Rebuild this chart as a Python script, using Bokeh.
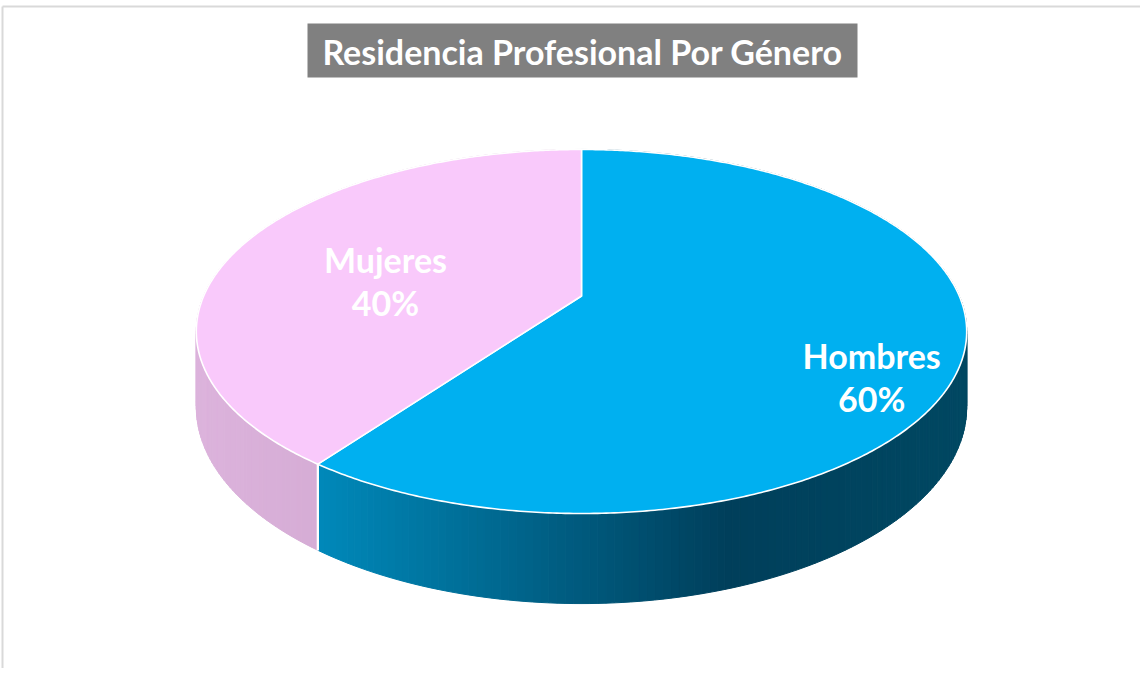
import math
from bokeh.plotting import figure
from bokeh.models import Range1d
from bokeh.core.properties import value
from bokeh.embed import file_html
from bokeh.resources import INLINE

# ---- data ----
title_text = "Residencia Profesional Por Género"
categories = ["Hombres", "Mujeres"]
values = [60, 40]

# ---- styles / layout ----
top_colors = ["#00B0F0", "#F9C9FB"]
side_stops = [
    [(0.0, "#0089BA"), (0.63, "#003F5B"), (1.0, "#004862")],
    [(0.0, "#DCB3DC"), (1.0, "#C89EC7")],
]
label_rho = [0.77, 0.564]
label_dy = [37, 14]
FONT = "Lato"

W, H = 1140, 668
CX, CY = 581.0, 295.5      # pie centre (screen px)
RX, RY = 377.8, 175.1      # radii of the tilted disc
K = 0.195                  # perspective strength
DEPTH = 72.5               # thickness of the pie


def proj(theta_deg, rho=1.0, drop=0.0):
    t = math.radians(theta_deg)
    u = rho * math.sin(t)
    v = rho * math.cos(t)
    s = 1.0 / (1.0 + K * v)
    return CX + RX * u * s, CY + (-RY * v + drop) * s


def hex2rgb(h):
    h = h.lstrip("#")
    return tuple(int(h[i:i + 2], 16) for i in (0, 2, 4))


def grad(stops, f):
    f = min(max(f, 0.0), 1.0)
    for (f0, c0), (f1, c1) in zip(stops[:-1], stops[1:]):
        if f <= f1:
            a = (f - f0) / (f1 - f0) if f1 > f0 else 0
            r0, r1 = hex2rgb(c0), hex2rgb(c1)
            return "#%02x%02x%02x" % tuple(int(round(r0[i] + (r1[i] - r0[i]) * a)) for i in range(3))
    return stops[-1][1]


p = figure(width=W, height=H, x_range=Range1d(0, W), y_range=Range1d(H, 0),
           output_backend="svg", toolbar_location=None, min_border=0,
           x_axis_type=None, y_axis_type=None)
p.grid.visible = False
p.outline_line_color = None
p.background_fill_color = "white"
p.border_fill_color = "white"

# frame lines (top and left)
p.line([2, W], [6, 6], line_color="#d9d9d9", line_width=2)
p.line([2, 2], [6, H], line_color="#d9d9d9", line_width=2)

# slice angles (clockwise from 12 o'clock)
total = float(sum(values))
angles = []
a0 = 0.0
for v in values:
    a1 = a0 + 360.0 * v / total
    angles.append((a0, a1))
    a0 = a1

# side walls (drawn first, tops cover hidden parts)
for i, (s0, s1) in enumerate(angles):
    n = max(int((s1 - s0) / 1.0), 2)
    pts = [s0 + (s1 - s0) * j / n for j in range(n + 1)]
    xs_all = [proj(t)[0] for t in pts]
    xmin, xmax = min(xs_all), max(xs_all)
    qx, qy, qc = [], [], []
    for ta, tb in zip(pts[:-1], pts[1:]):
        xa, ya = proj(ta)
        xb, yb = proj(tb)
        xa2, ya2 = proj(ta, drop=DEPTH)
        xb2, yb2 = proj(tb, drop=DEPTH)
        qx.append([xa, xb, xb2, xa2])
        qy.append([ya, yb, yb2, ya2])
        xm = (xa + xb) / 2
        qc.append(grad(side_stops[i], (xm - xmin) / (xmax - xmin)))
    p.patches(qx, qy, fill_color=qc, line_color=qc, line_width=1)

# white edge between side walls (front boundary)
for (s0, s1) in angles:
    for t in (s0, s1):
        if 90 < t < 270:
            x1, y1 = proj(t)
            x2, y2 = proj(t, drop=DEPTH)
            p.line([x1, x2], [y1, y2], line_color="white", line_width=2)

# top faces
for i, (s0, s1) in enumerate(angles):
    n = max(int((s1 - s0) / 0.5), 2)
    xs, ys = [CX], [CY]
    for j in range(n + 1):
        x, y = proj(s0 + (s1 - s0) * j / n)
        xs.append(x)
        ys.append(y)
    p.patch(xs, ys, fill_color=top_colors[i], line_color="white", line_width=1.6,
            line_join="round")

# labels
for i, (s0, s1) in enumerate(angles):
    mid = (s0 + s1) / 2
    lx, ly = proj(mid, rho=label_rho[i])
    ly += label_dy[i]
    pct = "%d%%" % round(100 * values[i] / total)
    p.text([lx], [ly - 21], text=[categories[i]], text_align="center", text_baseline="middle",
           text_color="white", text_font=value(FONT), text_font_style="bold",
           text_font_size="34px")
    p.text([lx], [ly + 22], text=[pct], text_align="center", text_baseline="middle",
           text_color="white", text_font=value(FONT), text_font_style="bold",
           text_font_size="34px")

# title box
p.rect([582], [50], width=550, height=54, fill_color="#808080", line_color=None)
p.text([582], [51], text=[title_text], text_align="center", text_baseline="middle",
       text_color="white", text_font=value(FONT), text_font_style="bold",
       text_font_size="34px")

open("out.html", "w").write(file_html(p, INLINE))
